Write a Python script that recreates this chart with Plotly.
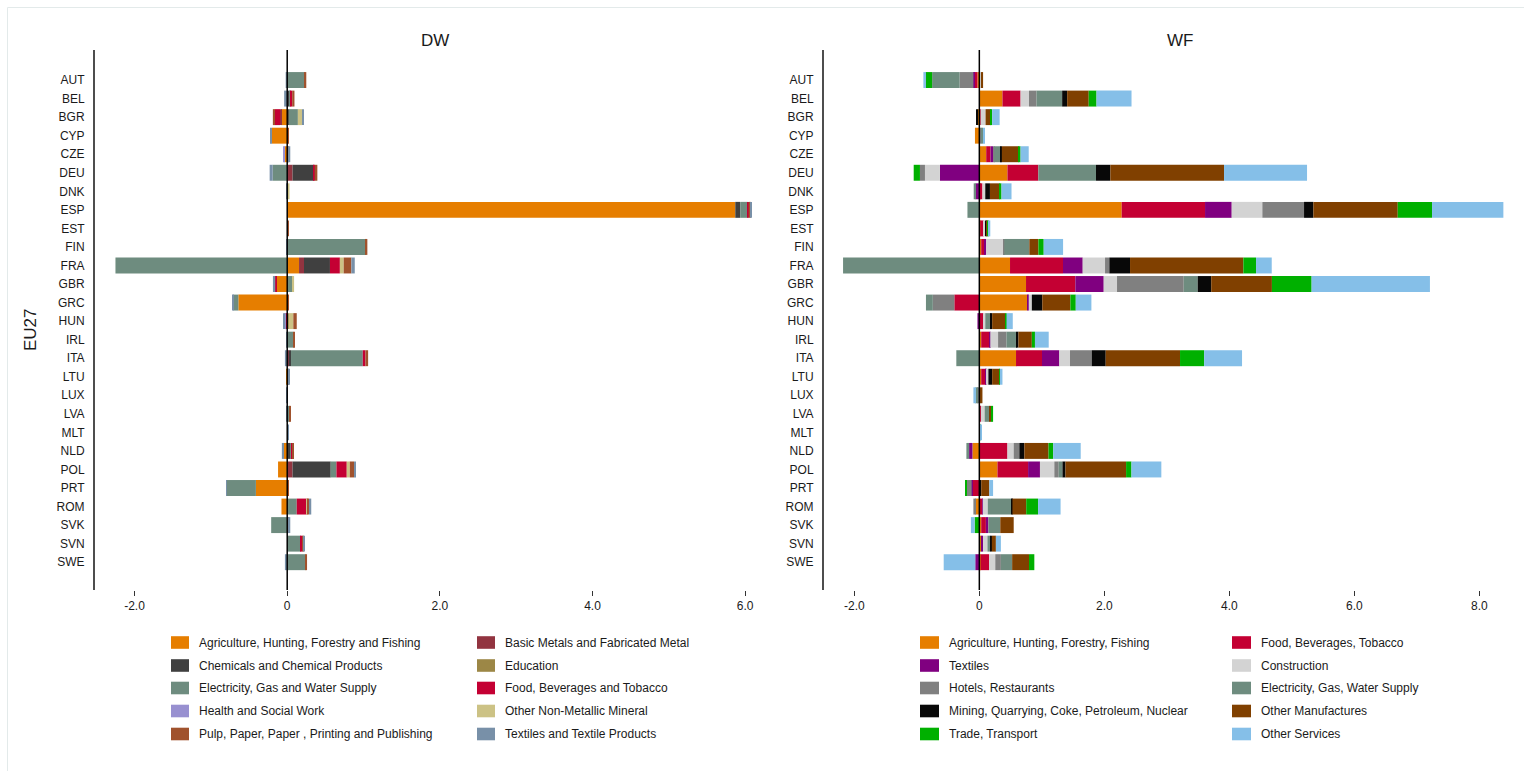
import plotly.graph_objects as go

W, H = 1524, 771

countries = ["AUT", "BEL", "BGR", "CYP", "CZE", "DEU", "DNK", "ESP", "EST", "FIN",
             "FRA", "GBR", "GRC", "HUN", "IRL", "ITA", "LTU", "LUX", "LVA", "MLT",
             "NLD", "POL", "PRT", "ROM", "SVK", "SVN", "SWE"]

# ---- DW panel: contributions by sector (one value per country, same order) ----
dw_sectors = ["Agriculture, Hunting, Forestry and Fishing", "Basic Metals and Fabricated Metal",
              "Chemicals and Chemical Products", "Education",
              "Electricity, Gas and Water Supply", "Food, Beverages and Tobacco",
              "Health and Social Work", "Other Non-Metallic Mineral",
              "Pulp, Paper, Paper , Printing and Publishing", "Textiles and Textile Products"]
dw_colors = ["#E67E00", "#923440", "#404040", "#9C8746", "#6E8C7F",
             "#C40033", "#9890D0", "#CCC285", "#A0522D", "#7890A8"]

dw_agri = [0, 0, -0.08, -0.2, -0.035, 0, 0, 5.87, 0, 0,
           0.155, -0.14, -0.64, 0, 0, 0, -0.01, 0, 0, 0,
           -0.045, -0.12, -0.41, -0.075, 0, 0, 0]
dw_metals = [0.01, 0, -0.012, 0, 0, 0.07, 0, 0, 0, 0,
             0.065, 0, 0, 0.01, 0, 0.02, 0, 0, 0, 0,
             0, 0.07, 0, 0, 0, 0, 0]
dw_chem = [0, 0.03, 0.02, 0, 0, 0.28, 0, 0.065, 0, 0,
           0.34, 0, 0, 0, 0, 0.03, 0, 0, 0, 0,
           0.04, 0.5, 0, 0, 0, 0, 0]
dw_edu = [0, 0, 0, 0, 0, 0, 0, 0, 0, 0,
          0, 0, 0, 0.01, 0, 0, 0, 0, 0, 0,
          0, 0, 0, 0, 0, 0, 0]
dw_elec = [0.22, 0.015, 0.12, 0, 0, -0.19, 0.01, 0.1, 0.01, 1.03,
           -2.25, 0.07, -0.066, 0, 0.08, 0.94, 0, 0, 0.03, 0.01,
           0.01, 0.075, -0.38, 0.125, -0.21, 0.18, 0.24]
dw_food = [0, 0.02, -0.07, 0, 0, 0.01, 0, 0.01, 0, 0,
           0.13, -0.017, 0, -0.025, 0, 0.035, 0, 0, 0, 0,
           0.02, 0.135, 0, 0.13, 0.01, 0.02, 0]
dw_health = [0, 0, 0, 0, -0.02, 0, 0, 0, 0, 0,
             0, 0, 0, -0.01, 0, 0, 0, 0, 0, 0,
             0, 0, 0, 0, 0, 0, 0]
dw_mineral = [0, 0, 0.057, 0, 0, 0, 0.02, 0, 0, 0,
              0.05, 0.02, 0, 0.06, 0, 0, 0.01, 0, 0, 0,
              0, 0.04, 0, 0.01, 0, 0, 0]
dw_pulp = [0.02, 0.03, -0.026, 0.015, 0.02, 0.035, 0, 0.03, 0.01, 0.02,
           0.1, 0, 0.015, 0.045, 0.02, 0.035, 0.01, 0.01, 0.02, 0,
           0.01, 0.055, 0.02, 0.02, 0.01, 0.01, 0.02]
dw_textile = [-0.02, -0.04, 0.02, -0.017, 0.02, -0.04, -0.01, 0.01, 0, -0.01,
              0.045, -0.03, -0.01, -0.01, -0.015, -0.03, 0.005, -0.005, -0.01, 0.005,
              -0.025, 0.025, -0.01, 0.03, 0.02, 0.02, -0.03]

# ---- WF panel ----
wf_sectors = ["Agriculture, Hunting, Forestry, Fishing", "Food, Beverages, Tobacco",
              "Textiles", "Construction", "Hotels, Restaurants",
              "Electricity, Gas, Water Supply",
              "Mining, Quarrying, Coke, Petroleum, Nuclear", "Other Manufactures",
              "Trade, Transport", "Other Services"]
wf_colors = ["#E67E00", "#C40033", "#800080", "#D3D3D3", "#808080",
             "#6E8C7F", "#080808", "#804000", "#00B000", "#85BFE8"]

wf_agri = [-0.03, 0.37, -0.03, -0.07, 0.11, 0.45, 0.02, 2.278, 0.015, 0.03,
           0.491, 0.747, 0.77, 0, 0.03, 0.587, 0.03, 0, 0, 0,
           -0.11, 0.29, 0, -0.065, 0.03, 0.03, 0.02]
wf_food = [-0.05, 0.29, 0.02, 0, 0.07, 0.494, 0.03, 1.333, 0.055, 0.055,
           0.848, 0.789, -0.40, 0.065, 0.13, 0.416, 0.075, 0, 0.025, 0,
           0.45, 0.49, -0.107, 0.05, 0.075, 0, 0.135]
wf_textile = [-0.015, 0, 0, 0, 0.04, -0.63, -0.06, 0.427, 0, 0.025,
              0.315, 0.454, 0.02, -0.03, 0.015, 0.277, 0.01, 0, 0, 0,
              -0.054, 0.19, -0.016, 0.005, 0.04, 0.03, -0.065]
wf_constr = [0.03, 0.135, 0.08, 0, 0, -0.24, 0.045, 0.49, 0.025, 0.28,
             0.357, 0.213, 0.05, 0.03, 0.125, 0.171, 0.03, 0, 0.06, 0,
             0.1, 0.23, 0, 0.08, 0, 0.07, 0.1]
wf_hotels = [-0.22, 0.12, 0, 0.03, 0.02, -0.08, 0, 0.667, 0, 0.01,
             0.069, 1.067, -0.344, 0, 0.135, 0.347, 0, -0.035, 0, 0,
             0.09, 0.07, -0.075, -0.03, 0, 0, 0.09]
wf_elec = [-0.44, 0.41, 0, 0.03, 0.1, 0.923, -0.03, -0.19, 0, 0.4,
           -2.18, 0.224, -0.11, 0.085, 0.16, -0.368, 0, -0.03, 0.075, 0,
           -0.043, 0.06, 0, 0.38, 0.19, 0.05, 0.18]
wf_mining = [0, 0.08, -0.02, 0, 0.02, 0.229, 0.075, 0.149, 0.015, 0,
             0.331, 0.216, 0.167, 0.025, 0.03, 0.224, 0.06, 0, 0, 0,
             0.08, 0.048, 0.03, 0.015, 0, 0.02, 0]
wf_manuf = [0.03, 0.345, 0.085, 0, 0.27, 1.819, 0.155, 1.35, 0.02, 0.145,
            1.813, 0.971, 0.45, 0.215, 0.215, 1.189, 0.12, 0.05, 0.03, 0,
            0.387, 0.97, 0.13, 0.22, 0.215, 0.065, 0.27]
wf_trade = [-0.11, 0.125, 0.02, 0, 0.03, -0.1, 0.03, 0.549, 0.02, 0.085,
            0.203, 0.635, 0.086, 0.015, 0.05, 0.386, 0.005, 0, 0.03, 0.02,
            0.075, 0.086, -0.02, 0.19, -0.075, 0, 0.085]
wf_services = [-0.03, 0.56, 0.12, 0.02, 0.13, 1.328, 0.16, 1.141, 0.025, 0.31,
               0.251, 1.893, 0.25, 0.1, 0.22, 0.606, 0.04, -0.03, 0, 0.015,
               0.44, 0.478, 0.06, 0.36, -0.06, 0.08, -0.505]

dw_values = [dw_agri, dw_metals, dw_chem, dw_edu, dw_elec,
             dw_food, dw_health, dw_mineral, dw_pulp, dw_textile]
wf_values = [wf_agri, wf_food, wf_textile, wf_constr, wf_hotels,
             wf_elec, wf_mining, wf_manuf, wf_trade, wf_services]

dw_ticks = [-2, 0, 2, 4, 6]
wf_ticks = [-2, 0, 2, 4, 6, 8]


def px(x):
    return x / W


def py(y):
    return 1 - y / H


FONT = "Liberation Sans, Arial, sans-serif"
TXT = "#1a1a1a"

fig = go.Figure()

for name, color, vals in zip(dw_sectors, dw_colors, dw_values):
    fig.add_trace(go.Bar(x=vals, y=countries, orientation="h", name=name,
                         marker=dict(color=color, line=dict(width=0)),
                         xaxis="x", yaxis="y", showlegend=False))
for name, color, vals in zip(wf_sectors, wf_colors, wf_values):
    fig.add_trace(go.Bar(x=vals, y=countries, orientation="h", name=name,
                         marker=dict(color=color, line=dict(width=0)),
                         xaxis="x2", yaxis="y2", showlegend=False))

ydom = [py(590), py(50)]
yrange = [len(countries) - 1 + 1.5, -1.62]

common_y = dict(type="category", categoryorder="array", categoryarray=countries,
                range=yrange, autorange=False, showgrid=False, zeroline=False,
                showline=True, linecolor="#4d4d4d", linewidth=2, ticks="",
                ticklabelstandoff=6, tickfont=dict(family=FONT, size=12, color=TXT),
                domain=ydom)
common_x = dict(showgrid=False, zeroline=False, showline=False, ticks="outside",
                ticklen=5, tickwidth=1, tickcolor="#333333", autorange=False,
                tickfont=dict(family=FONT, size=12, color=TXT))

fig.update_layout(
    width=W, height=H,
    margin=dict(l=0, r=0, t=0, b=0),
    paper_bgcolor="white", plot_bgcolor="white",
    barmode="relative", bargap=0.14,
    xaxis=dict(common_x, domain=[px(95), px(762)], range=[-2.518, 6.22], anchor="y",
               tickvals=dw_ticks, ticktext=[f"{t:.1f}" if t else "0" for t in dw_ticks]),
    yaxis=dict(common_y, anchor="x"),
    xaxis2=dict(common_x, domain=[px(824), px(1515)], range=[-2.485, 8.57], anchor="y2",
                tickvals=wf_ticks, ticktext=[f"{t:.1f}" if t else "0" for t in wf_ticks]),
    yaxis2=dict(common_y, anchor="x2"),
)

shapes = []
annotations = []

# zero reference lines drawn over the bars
for xr, yr in (("x", "y domain"), ("x2", "y2 domain")):
    shapes.append(dict(type="line", xref=xr, yref=yr, x0=0, x1=0, y0=0, y1=1,
                       line=dict(color="black", width=1.5), layer="above"))

# faint frame around the figure
shapes.append(dict(type="rect", xref="paper", yref="paper",
                   x0=px(7.5), x1=px(W + 5), y0=py(H + 5), y1=py(7.5),
                   line=dict(color="#e3eaea", width=1), fillcolor="rgba(0,0,0,0)"))

# panel titles and shared axis title
for label, cx in (("DW", 435), ("WF", 1180)):
    annotations.append(dict(text=label, x=px(cx), y=py(40), xref="paper", yref="paper",
                            showarrow=False, xanchor="center", yanchor="middle",
                            font=dict(family=FONT, size=17, color=TXT)))
annotations.append(dict(text="EU27", x=px(30), y=py(330), xref="paper", yref="paper",
                        showarrow=False, textangle=-90, xanchor="center", yanchor="middle",
                        font=dict(family=FONT, size=17, color=TXT)))

# two-column legends under each panel
row_y = [642.5, 665.5, 688, 711, 734]


def add_legend(names, colors, swatch_x, text_x, sw_w):
    for i, (name, color) in enumerate(zip(names, colors)):
        col, row = i % 2, i // 2
        yc = row_y[row]
        x0 = swatch_x[col]
        shapes.append(dict(type="rect", xref="paper", yref="paper",
                           x0=px(x0), x1=px(x0 + sw_w), y0=py(yc + 6.3), y1=py(yc - 6.3),
                           fillcolor=color, line=dict(width=0)))
        annotations.append(dict(text=name, x=px(text_x[col] - 2), y=py(yc), xref="paper",
                                yref="paper", showarrow=False, xanchor="left",
                                yanchor="middle",
                                font=dict(family=FONT, size=12, color=TXT)))


add_legend(dw_sectors, dw_colors, [171, 477], [199, 505], 18)
add_legend(wf_sectors, wf_colors, [920, 1232], [949, 1261], 19)

fig.update_layout(shapes=shapes, annotations=annotations)

fig.write_html("out.html")
